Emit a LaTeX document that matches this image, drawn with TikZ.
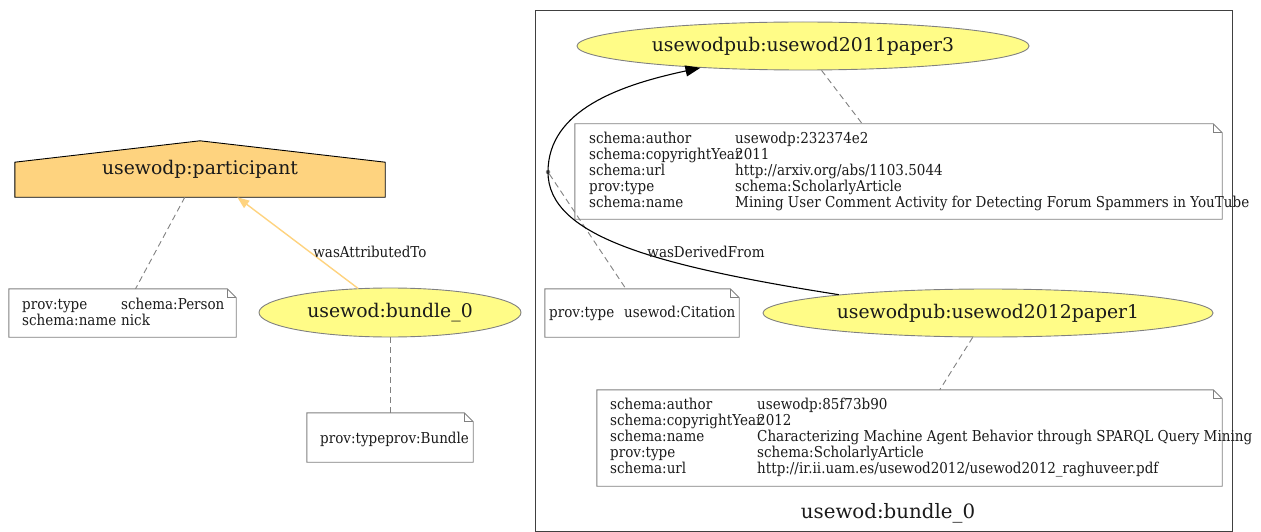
\documentclass[tikz,border=0pt]{standalone}
\usepackage{fontspec}
\setmainfont{DejaVu Serif}
\newfontfamily\condfont{DejaVu Serif}[FakeStretch=0.9]
\usetikzlibrary{shapes.geometric,arrows.meta,backgrounds}
\definecolor{entfill}{HTML}{FFFC87}
\definecolor{agfill}{HTML}{FED37F}
\definecolor{attrcol}{HTML}{FED37F}
\definecolor{bordgray}{HTML}{808080}
\definecolor{txt}{HTML}{1A1A1A}
\newlength\colw
\newcommand\nrow[2]{\hbox{\makebox[\colw][l]{#1}#2}}
\newcommand\drawnote[1]{%
  \draw[bordgray, line width=0.9pt] (#1.north west) -- ([xshift=-9pt]#1.north east) -- ([yshift=-9pt]#1.north east) -- (#1.south east) -- (#1.south west) -- cycle;
  \draw[bordgray, line width=0.9pt] ([xshift=-9pt]#1.north east) |- ([yshift=-9pt]#1.north east);}
\tikzset{
  entity/.style={ellipse, draw=bordgray, line width=0.9pt, fill=entfill, inner sep=0pt, font=\fontsize{18.8}{22}\selectfont, text=txt},
  notebox/.style={rectangle, draw=none, inner sep=0pt},
  notetext/.style={anchor=base west, inner sep=0pt, font=\condfont\fontsize{15}{16}\selectfont, text=txt},
  lbl/.style={inner sep=0pt, font=\condfont\fontsize{15}{16}\selectfont, text=txt},
  assoc/.style={bordgray, line width=0.9pt, dash pattern=on 6pt off 4pt},
}
\begin{document}
\begin{tikzpicture}[x=1pt,y=-1pt]
\useasboundingbox (0,0) rectangle (1261,532);
% cluster
\node[draw=black!75, line width=0.9pt, rectangle, inner sep=0pt, minimum width=697pt, minimum height=521.5pt] (cluster) at (883.5,270.75) {};
\node[inner sep=0pt, font=\fontsize{19.8}{22}\selectfont, text=txt] (clabel) at (888,513) {usewod:bundle\_0};

% agent (house)
\node[rectangle, inner sep=0pt, minimum width=370pt, minimum height=56pt, font=\fontsize{18.8}{22}\selectfont, text=txt] (part) at (200,169) {usewodp:participant};
\begin{scope}[on background layer]
\filldraw[fill=agfill, draw=black, line width=0.9pt] (part.south west) -- ([yshift=35pt]part.south west) -- (part.north) -- ([yshift=35pt]part.south east) -- (part.south east) -- cycle;
\end{scope}

% entities
\node[entity, minimum width=262pt, minimum height=49pt] (bundle) at (390,312.5) {usewod:bundle\_0};
\node[entity, minimum width=452pt, minimum height=48pt] (p3) at (803,46) {usewodpub:usewod2011paper3};
\node[entity, minimum width=450pt, minimum height=48pt] (p12) at (988,313) {usewodpub:usewod2012paper1};

% notes
\node[notebox, minimum width=227pt, minimum height=48pt] (n1) at (122.5,313) {};
\drawnote{n1}
\node[notetext] (n1t) at (22,309.5) {\colw=99pt\vtop{\baselineskip=16pt
  \nrow{prov:type}{schema:Person}
  \nrow{schema:name}{nick}}};

\node[notebox, minimum width=166pt, minimum height=49pt] (nb) at (390,437.5) {};
\drawnote{nb}
\node[notetext] (nbt) at (320,443) {prov:typeprov:Bundle};

\node[notebox, minimum width=194pt, minimum height=48pt] (nc) at (642,313) {};
\drawnote{nc}
\node[notetext] (nct) at (549,317.5) {\colw=75pt\vtop{\nrow{prov:type}{usewod:Citation}}};

\node[notebox, minimum width=647pt, minimum height=95pt] (n3) at (898.5,171.5) {};
\drawnote{n3}
\node[notetext] (n3t) at (589,143.5) {\colw=146pt\vtop{\baselineskip=16pt
  \nrow{schema:author}{usewodp:232374e2}
  \nrow{schema:copyrightYear}{2011}
  \nrow{schema:url}{http://arxiv.org/abs/1103.5044}
  \nrow{prov:type}{schema:ScholarlyArticle}
  \nrow{schema:name}{Mining User Comment Activity for Detecting Forum Spammers in YouTube}}};

\node[notebox, minimum width=625pt, minimum height=96pt] (n12) at (909.5,438) {};
\drawnote{n12}
\node[notetext] (n12t) at (610,409.5) {\colw=147pt\vtop{\baselineskip=16pt
  \nrow{schema:author}{usewodp:85f73b90}
  \nrow{schema:copyrightYear}{2012}
  \nrow{schema:name}{Characterizing Machine Agent Behavior through SPARQL Query Mining}
  \nrow{prov:type}{schema:ScholarlyArticle}
  \nrow{schema:url}{http://ir.ii.uam.es/usewod2012/usewod2012\_raghuveer.pdf}}};

% attribute associations (dashed)
\draw[assoc] (part) -- (n1);
\draw[assoc] (bundle) -- (nb);
\draw[assoc] (p3) -- (n3);
\draw[assoc] (p12) -- (n12);

% derivation edge with dot
\node[circle, fill=bordgray, inner sep=0pt, minimum size=4.5pt] (dot) at (548,172) {};
\draw[assoc] (dot) -- (nc);
\draw[black, line width=1.1pt, -{Triangle[length=15pt,width=11pt]}] (p12.173.5) .. controls (650,265) and (548,235) .. (dot.center) .. controls (548,110) and (620,85) .. (p3.192);
\node[lbl] (ldf) at (706,252) {wasDerivedFrom};

% attribution edge
\draw[attrcol, line width=1.4pt, -{Triangle[length=12pt,width=9pt]}] (bundle) -- (part);
\node[lbl] (lat) at (370,252) {wasAttributedTo};
\end{tikzpicture}
\end{document}
